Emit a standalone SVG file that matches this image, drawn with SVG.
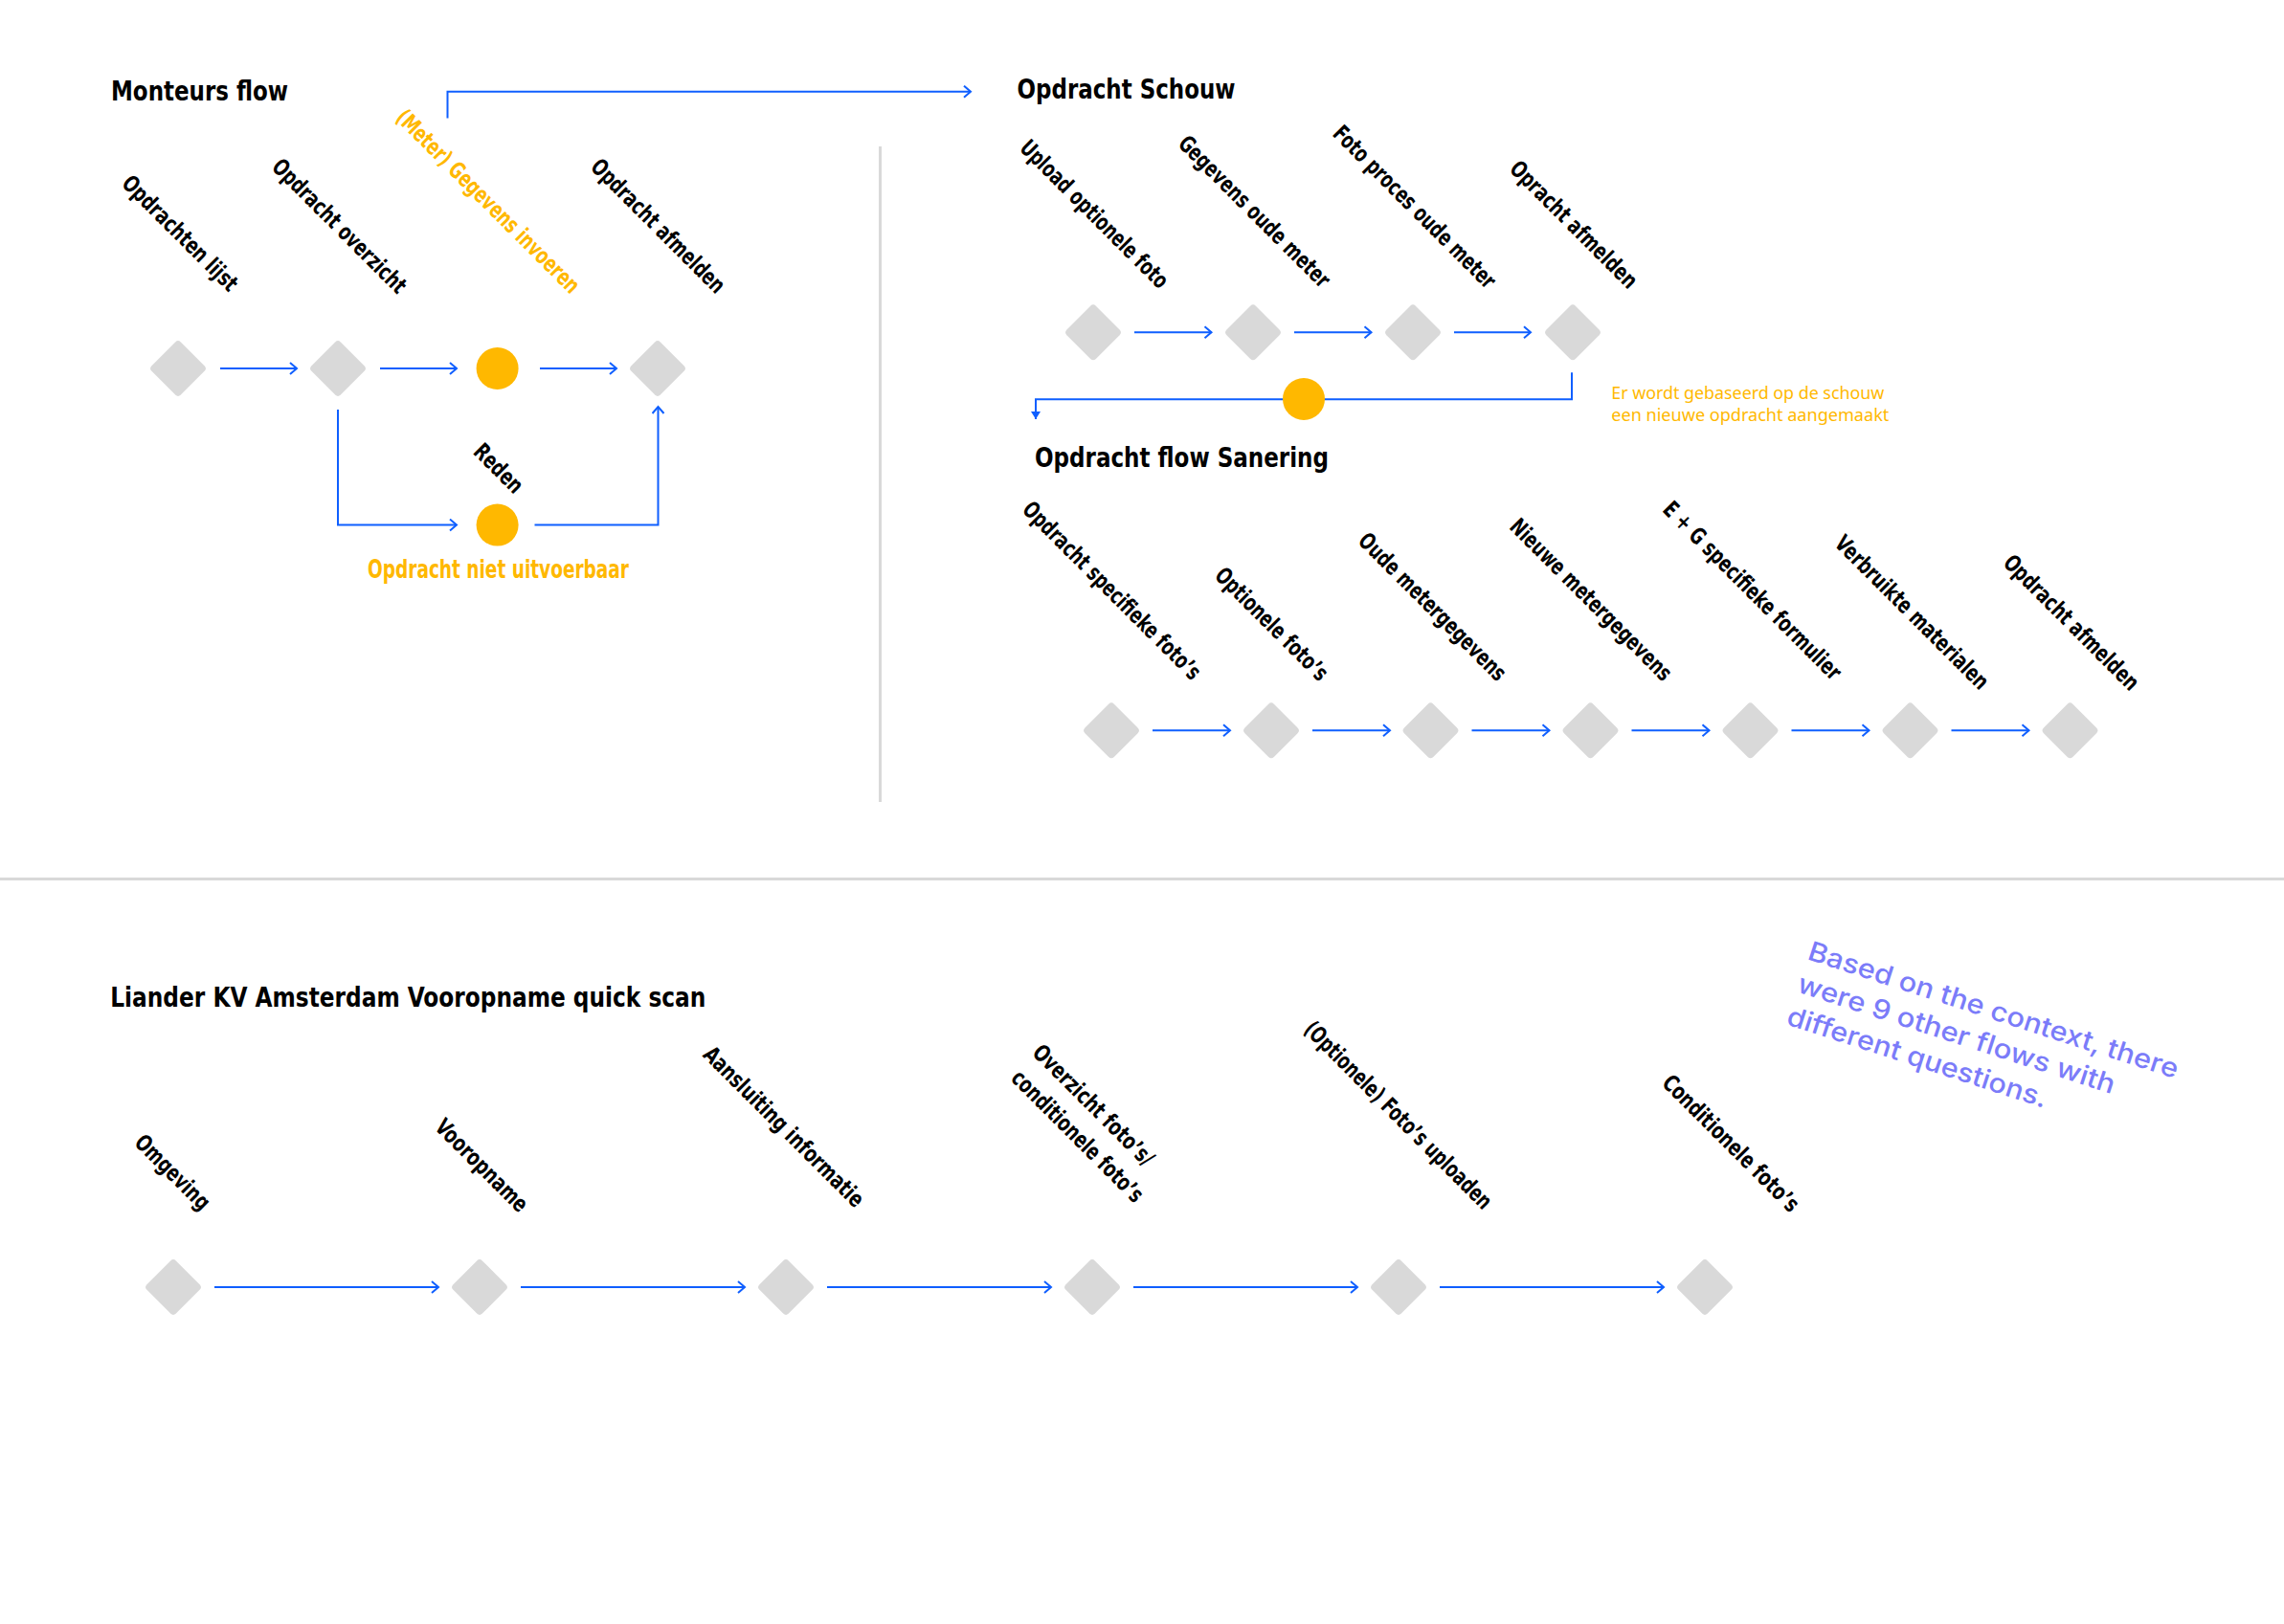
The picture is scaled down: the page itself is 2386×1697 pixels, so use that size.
<svg xmlns="http://www.w3.org/2000/svg" xmlns:xlink="http://www.w3.org/1999/xlink" width="2386" height="1697" viewBox="0 0 2386 1697">
  <style>
    .title { font-family: "DejaVu Sans Condensed", "DejaVu Sans", "Liberation Sans", sans-serif; font-weight: 700; font-size: 29px; fill: #000; }
    .lbl { font-family: "DejaVu Sans Condensed", "DejaVu Sans", "Liberation Sans", sans-serif; font-weight: 700; font-size: 24px; fill: #000; }
    .amber { fill: #FFB800; }
    .note { font-family: "Noto Sans", "Liberation Sans", sans-serif; font-size: 18px; fill: #FFB800; }
    .remark { font-family: "Inter", "Noto Sans", sans-serif; font-weight: 500; font-size: 28px; fill: #7B7CF9; }
    .edge { stroke: #0F5FFF; stroke-width: 2; fill: none; }
    .divider { stroke: #D9D9D9; stroke-width: 3; fill: none; }
    .step { fill: #D9D9D9; }
    .event { fill: #FFB800; }
  </style>
  <defs>
    <rect id="dia" class="step" x="-21.5" y="-21.5" width="43" height="43" rx="4" transform="rotate(45)"/>
    <marker id="open" markerUnits="userSpaceOnUse" markerWidth="12" markerHeight="16" refX="9" refY="7" orient="auto">
      <path d="M2,1 L9,7 L2,13" stroke="#0F5FFF" stroke-width="2" fill="none"/>
    </marker>
    <marker id="solid" markerUnits="userSpaceOnUse" markerWidth="12" markerHeight="12" refX="8" refY="5" orient="auto">
      <path d="M0,0 L8,5 L0,10 Z" fill="#0F5FFF"/>
    </marker>
  </defs>

  <rect width="2386" height="1697" fill="#FFFFFF"/>

  <!-- section dividers -->
  <g id="dividers">
    <line class="divider" x1="919.5" y1="153" x2="919.5" y2="838"/>
    <line class="divider" x1="0" y1="918.5" x2="2386" y2="918.5"/>
  </g>

  <!-- section titles -->
  <g id="titles">
    <text class="title" x="116" y="104.5" textLength="185" lengthAdjust="spacingAndGlyphs">Monteurs flow</text>
    <text class="title" x="1062.5" y="103.3" textLength="228" lengthAdjust="spacingAndGlyphs">Opdracht Schouw</text>
    <text class="title" x="1081" y="488.3" textLength="307" lengthAdjust="spacingAndGlyphs">Opdracht flow Sanering</text>
    <text class="title" x="115.3" y="1051.7" textLength="622" lengthAdjust="spacingAndGlyphs">Liander KV Amsterdam Vooropname quick scan</text>
  </g>

  <!-- connectors -->
  <g id="connectors">
    <!-- Monteurs flow -->
    <path class="edge" d="M230,385 H310" marker-end="url(#open)"/>
    <path class="edge" d="M397,385 H477" marker-end="url(#open)"/>
    <path class="edge" d="M564,385 H644" marker-end="url(#open)"/>
    <path class="edge" d="M353,428 V548.6 H477" marker-end="url(#open)"/>
    <path class="edge" d="M558.5,548.6 H687.5 V425" marker-end="url(#open)"/>
    <path class="edge" d="M467.5,123.6 V95.7 H1014" marker-end="url(#open)"/>
    <!-- Opdracht Schouw -->
    <path class="edge" d="M1185,347.3 H1265.5" marker-end="url(#open)"/>
    <path class="edge" d="M1352,347.3 H1432.5" marker-end="url(#open)"/>
    <path class="edge" d="M1519,347.3 H1599" marker-end="url(#open)"/>
    <path class="edge" d="M1642,389.3 V417.3 H1082 V438" marker-end="url(#solid)"/>
    <!-- Opdracht flow Sanering -->
    <path class="edge" d="M1204,763.3 H1285" marker-end="url(#open)"/>
    <path class="edge" d="M1371,763.3 H1452" marker-end="url(#open)"/>
    <path class="edge" d="M1537.5,763.3 H1618.5" marker-end="url(#open)"/>
    <path class="edge" d="M1704.5,763.3 H1785.5" marker-end="url(#open)"/>
    <path class="edge" d="M1871.5,763.3 H1952.5" marker-end="url(#open)"/>
    <path class="edge" d="M2038.5,763.3 H2119.5" marker-end="url(#open)"/>
    <!-- Vooropname quick scan -->
    <path class="edge" d="M224,1345 H458" marker-end="url(#open)"/>
    <path class="edge" d="M544,1345 H778" marker-end="url(#open)"/>
    <path class="edge" d="M864,1345 H1098" marker-end="url(#open)"/>
    <path class="edge" d="M1184,1345 H1418" marker-end="url(#open)"/>
    <path class="edge" d="M1504,1345 H1738" marker-end="url(#open)"/>
  </g>

  <!-- Monteurs flow nodes -->
  <g id="m-opdrachten-lijst">
    <use xlink:href="#dia" x="186" y="385"/>
    <text class="lbl" transform="translate(125.9,192.9) rotate(45)" textLength="160" lengthAdjust="spacingAndGlyphs">Opdrachten lijst</text>
  </g>
  <g id="m-opdracht-overzicht">
    <use xlink:href="#dia" x="353" y="385"/>
    <text class="lbl" transform="translate(282.8,175.8) rotate(45)" textLength="187" lengthAdjust="spacingAndGlyphs">Opdracht overzicht</text>
  </g>
  <g id="m-gegevens-invoeren">
    <circle class="event" cx="519.6" cy="385" r="22"/>
    <text class="lbl amber" transform="translate(412.2,124.2) rotate(45)" textLength="260" lengthAdjust="spacingAndGlyphs">(Meter) Gegevens invoeren</text>
  </g>
  <g id="m-opdracht-afmelden">
    <use xlink:href="#dia" x="687" y="385"/>
    <text class="lbl" transform="translate(615.8,175.8) rotate(45)" textLength="187" lengthAdjust="spacingAndGlyphs">Opdracht afmelden</text>
  </g>
  <g id="m-niet-uitvoerbaar">
    <circle class="event" cx="519.6" cy="548.6" r="22"/>
    <text class="lbl" transform="translate(493.2,473.2) rotate(45)" textLength="62" lengthAdjust="spacingAndGlyphs">Reden</text>
    <text class="title amber" x="384" y="603.6" textLength="273" lengthAdjust="spacingAndGlyphs" style="font-size:26px">Opdracht niet uitvoerbaar</text>
  </g>

  <!-- Opdracht Schouw nodes -->
  <g id="s-upload-foto">
    <use xlink:href="#dia" x="1142" y="347.3"/>
    <text class="lbl" transform="translate(1064,156) rotate(45)" textLength="208" lengthAdjust="spacingAndGlyphs">Upload optionele foto</text>
  </g>
  <g id="s-gegevens-oude-meter">
    <use xlink:href="#dia" x="1309" y="347.3"/>
    <text class="lbl" transform="translate(1229.4,151.4) rotate(45)" textLength="213" lengthAdjust="spacingAndGlyphs">Gegevens oude meter</text>
  </g>
  <g id="s-foto-proces">
    <use xlink:href="#dia" x="1476" y="347.3"/>
    <text class="lbl" transform="translate(1391.1,141.1) rotate(45)" textLength="229" lengthAdjust="spacingAndGlyphs">Foto proces oude meter</text>
  </g>
  <g id="s-afmelden">
    <use xlink:href="#dia" x="1643" y="347.3"/>
    <text class="lbl" transform="translate(1575.8,177.8) rotate(45)" textLength="177" lengthAdjust="spacingAndGlyphs">Opracht afmelden</text>
  </g>
  <g id="s-nieuwe-opdracht">
    <circle class="event" cx="1362" cy="417" r="22"/>
    <text class="note" x="1683.3" y="417.3" textLength="285" lengthAdjust="spacingAndGlyphs">Er wordt gebaseerd op de schouw</text>
    <text class="note" x="1683.3" y="440" textLength="290" lengthAdjust="spacingAndGlyphs">een nieuwe opdracht aangemaakt</text>
  </g>

  <!-- Opdracht flow Sanering nodes -->
  <g id="r-specifieke-fotos">
    <use xlink:href="#dia" x="1161" y="763.3"/>
    <text class="lbl" transform="translate(1066.8,533.8) rotate(45)" textLength="252" lengthAdjust="spacingAndGlyphs">Opdracht specifieke foto’s</text>
  </g>
  <g id="r-optionele-fotos">
    <use xlink:href="#dia" x="1328" y="763.3"/>
    <text class="lbl" transform="translate(1267.7,602.7) rotate(45)" textLength="156" lengthAdjust="spacingAndGlyphs">Optionele foto’s</text>
  </g>
  <g id="r-oude-metergegevens">
    <use xlink:href="#dia" x="1494.5" y="763.3"/>
    <text class="lbl" transform="translate(1417.6,566.6) rotate(45)" textLength="207" lengthAdjust="spacingAndGlyphs">Oude metergegevens</text>
  </g>
  <g id="r-nieuwe-metergegevens">
    <use xlink:href="#dia" x="1661.5" y="763.3"/>
    <text class="lbl" transform="translate(1575.8,551.8) rotate(45)" textLength="228" lengthAdjust="spacingAndGlyphs">Nieuwe metergegevens</text>
  </g>
  <g id="r-eg-formulier">
    <use xlink:href="#dia" x="1828.5" y="763.3"/>
    <text class="lbl" transform="translate(1735.8,533.8) rotate(45)" textLength="252" lengthAdjust="spacingAndGlyphs">E + G specifieke formulier</text>
  </g>
  <g id="r-materialen">
    <use xlink:href="#dia" x="1995.5" y="763.3"/>
    <text class="lbl" transform="translate(1915.3,569.3) rotate(45)" textLength="216" lengthAdjust="spacingAndGlyphs">Verbruikte materialen</text>
  </g>
  <g id="r-afmelden">
    <use xlink:href="#dia" x="2162.5" y="763.3"/>
    <text class="lbl" transform="translate(2091.4,589.4) rotate(45)" textLength="189" lengthAdjust="spacingAndGlyphs">Opdracht afmelden</text>
  </g>

  <!-- Vooropname quick scan nodes -->
  <g id="q-omgeving">
    <use xlink:href="#dia" x="181" y="1345"/>
    <text class="lbl" transform="translate(139.3,1195.3) rotate(45)" textLength="100" lengthAdjust="spacingAndGlyphs">Omgeving</text>
  </g>
  <g id="q-vooropname">
    <use xlink:href="#dia" x="501" y="1345"/>
    <text class="lbl" transform="translate(452.9,1178.9) rotate(45)" textLength="126" lengthAdjust="spacingAndGlyphs">Vooropname</text>
  </g>
  <g id="q-aansluiting">
    <use xlink:href="#dia" x="821" y="1345"/>
    <text class="lbl" transform="translate(733.2,1103.2) rotate(45)" textLength="226" lengthAdjust="spacingAndGlyphs">Aansluiting informatie</text>
  </g>
  <g id="q-overzicht-fotos">
    <use xlink:href="#dia" x="1141" y="1345"/>
    <text class="lbl" transform="translate(1077.2,1101.2) rotate(45)" textLength="168" lengthAdjust="spacingAndGlyphs">Overzicht foto’s/</text>
    <text class="lbl" transform="translate(1054.9,1127.9) rotate(45)" textLength="184" lengthAdjust="spacingAndGlyphs">conditionele foto’s</text>
  </g>
  <g id="q-optionele-upload">
    <use xlink:href="#dia" x="1461" y="1345"/>
    <text class="lbl" transform="translate(1360.9,1076.9) rotate(45)" textLength="266" lengthAdjust="spacingAndGlyphs">(Optionele) Foto’s uploaden</text>
  </g>
  <g id="q-conditionele-fotos">
    <use xlink:href="#dia" x="1781" y="1345"/>
    <text class="lbl" transform="translate(1734.9,1132.9) rotate(45)" textLength="191" lengthAdjust="spacingAndGlyphs">Conditionele foto’s</text>
  </g>

  <!-- side remark -->
  <g id="remark">
    <text class="remark" transform="translate(1887,1002) rotate(18)" textLength="405" lengthAdjust="spacingAndGlyphs">Based on the context, there</text>
    <text class="remark" transform="translate(1876,1036) rotate(18)" textLength="347" lengthAdjust="spacingAndGlyphs">were 9 other flows with</text>
    <text class="remark" transform="translate(1865,1070) rotate(18)" textLength="284" lengthAdjust="spacingAndGlyphs">different questions.</text>
  </g>
</svg>
